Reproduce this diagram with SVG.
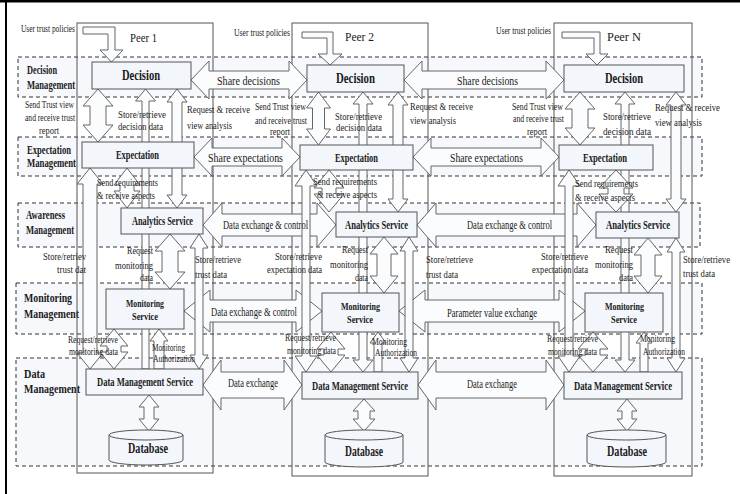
<svg xmlns="http://www.w3.org/2000/svg" width="740" height="494" viewBox="0 0 740 494">
<style>
.band{fill:#f6f8fc;stroke:#333;stroke-width:1;stroke-dasharray:4 3}
.peer{fill:none;stroke:#555;stroke-width:1}
.box{fill:#f3f6fb;stroke:#555;stroke-width:1}
.arw{fill:#fbfcfe;stroke:#666;stroke-width:1}
text{font-family:"Liberation Serif","Times New Roman",serif;fill:#1a1a1a}
.s{font-size:9.5px}
.ms{font-size:11px;font-weight:bold}
.a{font-size:12px}
.bl{font-size:11.5px;font-weight:bold}
.bl2{font-size:13.5px;font-weight:bold}
.n{font-size:12px;font-weight:bold}
.nb{font-size:14px;font-weight:bold}
.pl{font-size:13px}
</style>
<rect x="0" y="0" width="740" height="494" fill="#ffffff"/>
<g id="frame">
<rect x="0" y="0" width="740" height="2.5" fill="#000"/>
<rect x="5" y="0" width="2" height="494" fill="#000"/>
</g>
<g id="layer-decision"><rect class="band" x="18" y="57" width="684" height="40"/>
<text class="bl" x="27" y="74" textLength="30" lengthAdjust="spacingAndGlyphs">Decision</text>
<text class="bl" x="27" y="89" textLength="48" lengthAdjust="spacingAndGlyphs">Management</text></g>
<g id="layer-expectation"><rect class="band" x="18" y="137" width="684" height="39"/>
<text class="bl" x="27" y="154" textLength="44" lengthAdjust="spacingAndGlyphs">Expectation</text>
<text class="bl" x="27" y="167" textLength="49" lengthAdjust="spacingAndGlyphs">Management</text></g>
<g id="layer-awareness"><rect class="band" x="18" y="203" width="682" height="44"/>
<text class="bl" x="26" y="219" textLength="39" lengthAdjust="spacingAndGlyphs">Awareness</text>
<text class="bl" x="26" y="234" textLength="48" lengthAdjust="spacingAndGlyphs">Management</text></g>
<g id="layer-monitoring"><rect class="band" x="16" y="283" width="686" height="51"/>
<text class="bl2" x="24" y="302" textLength="48" lengthAdjust="spacingAndGlyphs">Monitoring</text>
<text class="bl2" x="24" y="318" textLength="55" lengthAdjust="spacingAndGlyphs">Management</text></g>
<g id="layer-data"><rect class="band" x="16" y="358" width="686" height="108"/>
<text class="bl2" x="24" y="378" textLength="21" lengthAdjust="spacingAndGlyphs">Data</text>
<text class="bl2" x="24" y="393" textLength="56" lengthAdjust="spacingAndGlyphs">Management</text></g>

<g id="peer-1"><rect class="peer" x="77" y="23" width="136" height="450"/>
<text class="pl" x="130" y="42" textLength="27" lengthAdjust="spacingAndGlyphs">Peer 1</text>
<text class="s" x="21" y="32" textLength="54" lengthAdjust="spacingAndGlyphs">User trust policies</text></g>
<g id="peer-2"><rect class="peer" x="292" y="23" width="136" height="453"/>
<text class="pl" x="345" y="41" textLength="29" lengthAdjust="spacingAndGlyphs">Peer 2</text>
<text class="s" x="234" y="36" textLength="56" lengthAdjust="spacingAndGlyphs">User trust policies</text></g>
<g id="peer-n"><rect class="peer" x="554" y="23" width="138" height="453"/>
<text class="pl" x="607" y="41" textLength="34" lengthAdjust="spacingAndGlyphs">Peer N</text>
<text class="s" x="496" y="34" textLength="55" lengthAdjust="spacingAndGlyphs">User trust policies</text></g>

<g id="connectors">
<polygon class="arw" points="191,80 209,61 209,71 289,71 289,61 307,80 289,99 289,89 209,89 209,99"/>
<polygon class="arw" points="404,80 422,61 422,71 546,71 546,61 564,80 546,99 546,89 422,89 422,99"/>
<polygon class="arw" points="194,157 212,138 212,148 282,148 282,138 300,157 282,176 282,166 212,166 212,176"/>
<polygon class="arw" points="413,157 431,138 431,148 541,148 541,138 559,157 541,176 541,166 431,166 431,176"/>
<polygon class="arw" points="203,225 222,203 222,214 317,214 317,203 336,225 317,247 317,236 222,236 222,247"/>
<polygon class="arw" points="417,225 436,203 436,214 577,214 577,203 596,225 577,247 577,236 436,236 436,247"/>
<polygon class="arw" points="184,311 210,290 210,300 296,300 296,290 322,311 296,332 296,322 210,322 210,332"/>
<polygon class="arw" points="399,311 425,290 425,300 559,300 559,290 585,311 559,332 559,322 425,322 425,332"/>
<polygon class="arw" points="203,385 221,360 221,372 284,372 284,360 302,385 284,410 284,398 221,398 221,410"/>
<polygon class="arw" points="418,385 436,360 436,372 546,372 546,360 564,385 546,410 546,398 436,398 436,410"/>
<path class="arw" d="M83,27 H115 V50 H123 L111.5,62 L100,50 H108 V34 H83 Z"/>
<path class="arw" d="M302,32 H333 V54 H342 L330,65 L318,54 H327 V38 H302 Z"/>
<path class="arw" d="M562,32 H600 V54 H608 L597,65 L586,54 H594 V38 H562 Z"/>
<polygon class="arw" points="98,89 113,106 106,106 106,125 113,125 98,142 83,125 90,125 90,106 83,106"/>
<polygon class="arw" points="145.5,89 155.5,101 149,101 149,369 142,369 142,101 135.5,101"/>
<polygon class="arw" points="177,89 187,102 182,102 182,195 187,195 177,208 167,195 172,195 172,102 167,102"/>
<polygon class="arw" points="127,168 140,185 134,185 134,191 140,191 127,208 114,191 120,191 120,185 114,185"/>
<polygon class="arw" points="90,168 103,184 97,184 97,353 103,353 90,369 77,353 83,353 83,184 77,184"/>
<polygon class="arw" points="170,234 185,251 178,251 178,272 185,272 170,289 155,272 162,272 162,251 155,251"/>
<polygon class="arw" points="199,234 208,248 203,248 203,355 208,355 199,369 190,355 195,355 195,248 190,248"/>
<polygon class="arw" points="114,329 128,346 121,346 121,352 128,352 114,369 100,352 107,352 107,346 100,346"/>
<polygon class="arw" points="159,329 168,341 164,341 164,369 154,369 154,341 150,341"/>
<polygon class="arw" points="149,395 159,407 154,407 154,419 159,419 149,431 139,419 144,419 144,407 139,407"/>
<polygon class="arw" points="318.5,92 330.5,108 324.5,108 324.5,129 330.5,129 318.5,145 306.5,129 312.5,129 312.5,108 306.5,108"/>
<polygon class="arw" points="363,92 373,104 367,104 367,360 373,360 363,372 353,360 359,360 359,104 353,104"/>
<polygon class="arw" points="398,92 408,105 403,105 403,199 408,199 398,212 388,199 393,199 393,105 388,105"/>
<polygon class="arw" points="329,170 344,188 336,188 336,194 344,194 329,212 314,194 322,194 322,188 314,188"/>
<polygon class="arw" points="306,170 317,186 310,186 310,356 317,356 306,372 295,356 302,356 302,186 295,186"/>
<polygon class="arw" points="384,237 398,254 391,254 391,276 398,276 384,293 370,276 377,276 377,254 370,254"/>
<polygon class="arw" points="409,237 418,251 413,251 413,358 418,358 409,372 400,358 405,358 405,251 400,251"/>
<polygon class="arw" points="331,332 345,349 338,349 338,355 345,355 331,372 317,355 324,355 324,349 317,349"/>
<polygon class="arw" points="378,332 386,343 382,343 382,372 374,372 374,343 370,343"/>
<polygon class="arw" points="364,399 375,411 370,411 370,419 375,419 364,431 353,419 358,419 358,411 353,411"/>
<polygon class="arw" points="580,92 595,109 588,109 588,128 595,128 580,145 565,128 572,128 572,109 565,109"/>
<polygon class="arw" points="625,92 635,104 629,104 629,360 635,360 625,372 615,360 621,360 621,104 615,104"/>
<polygon class="arw" points="676,92 686,105 681,105 681,199 686,199 676,212 666,199 671,199 671,105 666,105"/>
<polygon class="arw" points="616,170 633,188 624,188 624,194 633,194 616,212 599,194 608,194 608,188 599,188"/>
<polygon class="arw" points="569,170 580,186 573,186 573,356 580,356 569,372 558,356 565,356 565,186 558,186"/>
<polygon class="arw" points="648,238 662,255 655,255 655,276 662,276 648,293 634,276 641,276 641,255 634,255"/>
<polygon class="arw" points="676,238 685,252 680,252 680,358 685,358 676,372 667,358 672,358 672,252 667,252"/>
<polygon class="arw" points="593,332 608,349 600,349 600,355 608,355 593,372 578,355 586,355 586,349 578,349"/>
<polygon class="arw" points="644,332 652,343 648,343 648,372 640,372 640,343 636,343"/>
<polygon class="arw" points="627,399 637,411 632,411 632,419 637,419 627,431 617,419 622,419 622,411 617,411"/>
</g>

<g id="p1-decision"><rect class="box" x="92" y="62" width="99" height="27"/><text class="nb" x="122" y="80" textLength="38" lengthAdjust="spacingAndGlyphs">Decision</text></g>
<g id="p1-expectation"><rect class="box" x="82" y="142" width="112" height="26"/><text class="n" x="116" y="159" textLength="43" lengthAdjust="spacingAndGlyphs">Expectation</text></g>
<g id="p1-analytics"><rect class="box" x="121" y="208" width="82" height="26"/><text class="n" x="132" y="225" textLength="61" lengthAdjust="spacingAndGlyphs">Analytics Service</text></g>
<g id="p1-monitoring"><rect class="box" x="106" y="289" width="78" height="40"/><text class="ms" x="126" y="307" textLength="38" lengthAdjust="spacingAndGlyphs">Monitoring</text><text class="ms" x="132" y="320" textLength="26" lengthAdjust="spacingAndGlyphs">Service</text></g>
<g id="p1-dms"><rect class="box" x="86" y="369" width="117" height="26"/><text class="n" x="97" y="386" textLength="96" lengthAdjust="spacingAndGlyphs">Data Management Service</text></g>
<g id="p1-database"><path class="box" d="M109,435 A37,5 0 0 1 183,435 V460 A37,5 0 0 1 109,460 Z"/><path fill="none" stroke="#555" d="M109,435 A37,5 0 0 0 183,435"/><text class="nb" x="128" y="453" textLength="40" lengthAdjust="spacingAndGlyphs">Database</text></g>

<g id="p2-decision"><rect class="box" x="307" y="65" width="97" height="27"/><text class="nb" x="336" y="83" textLength="39" lengthAdjust="spacingAndGlyphs">Decision</text></g>
<g id="p2-expectation"><rect class="box" x="300" y="145" width="113" height="25"/><text class="n" x="335" y="162" textLength="43" lengthAdjust="spacingAndGlyphs">Expectation</text></g>
<g id="p2-analytics"><rect class="box" x="336" y="212" width="81" height="25"/><text class="n" x="345" y="229" textLength="63" lengthAdjust="spacingAndGlyphs">Analytics Service</text></g>
<g id="p2-monitoring"><rect class="box" x="322" y="293" width="77" height="39"/><text class="ms" x="341" y="310" textLength="39" lengthAdjust="spacingAndGlyphs">Monitoring</text><text class="ms" x="347" y="323" textLength="26" lengthAdjust="spacingAndGlyphs">Service</text></g>
<g id="p2-dms"><rect class="box" x="302" y="372" width="116" height="27"/><text class="n" x="312" y="390" textLength="96" lengthAdjust="spacingAndGlyphs">Data Management Service</text></g>
<g id="p2-database"><path class="box" d="M325,435 A39,5 0 0 1 403,435 V462 A39,5 0 0 1 325,462 Z"/><path fill="none" stroke="#555" d="M325,435 A39,5 0 0 0 403,435"/><text class="nb" x="345" y="456" textLength="38" lengthAdjust="spacingAndGlyphs">Database</text></g>

<g id="pn-decision"><rect class="box" x="564" y="65" width="120" height="27"/><text class="nb" x="605" y="83" textLength="38" lengthAdjust="spacingAndGlyphs">Decision</text></g>
<g id="pn-expectation"><rect class="box" x="559" y="145" width="94" height="25"/><text class="n" x="583" y="162" textLength="44" lengthAdjust="spacingAndGlyphs">Expectation</text></g>
<g id="pn-analytics"><rect class="box" x="596" y="212" width="83" height="26"/><text class="n" x="606" y="229" textLength="64" lengthAdjust="spacingAndGlyphs">Analytics Service</text></g>
<g id="pn-monitoring"><rect class="box" x="585" y="293" width="78" height="39"/><text class="ms" x="605" y="310" textLength="39" lengthAdjust="spacingAndGlyphs">Monitoring</text><text class="ms" x="611" y="323" textLength="26" lengthAdjust="spacingAndGlyphs">Service</text></g>
<g id="pn-dms"><rect class="box" x="564" y="372" width="118" height="27"/><text class="n" x="574" y="390" textLength="98" lengthAdjust="spacingAndGlyphs">Data Management Service</text></g>
<g id="pn-database"><path class="box" d="M587,435 A39.5,5 0 0 1 666,435 V462 A39.5,5 0 0 1 587,462 Z"/><path fill="none" stroke="#555" d="M587,435 A39.5,5 0 0 0 666,435"/><text class="nb" x="607" y="456" textLength="40" lengthAdjust="spacingAndGlyphs">Database</text></g>

<g id="connector-labels">
<text class="a" x="217" y="85" textLength="63" lengthAdjust="spacingAndGlyphs">Share decisions</text>
<text class="a" x="457" y="85" textLength="61" lengthAdjust="spacingAndGlyphs">Share decisions</text>
<text class="a" x="208" y="162" textLength="75" lengthAdjust="spacingAndGlyphs">Share expectations</text>
<text class="a" x="450" y="162" textLength="73" lengthAdjust="spacingAndGlyphs">Share expectations</text>
<text class="a" x="223" y="229" textLength="85" lengthAdjust="spacingAndGlyphs">Data exchange &amp; control</text>
<text class="a" x="467" y="229" textLength="85" lengthAdjust="spacingAndGlyphs">Data exchange &amp; control</text>
<text class="a" x="211" y="316" textLength="86" lengthAdjust="spacingAndGlyphs">Data exchange &amp; control</text>
<text class="a" x="447" y="317" textLength="90" lengthAdjust="spacingAndGlyphs">Parameter value exchange</text>
<text class="a" x="228" y="387" textLength="50" lengthAdjust="spacingAndGlyphs">Data exchange</text>
<text class="a" x="467" y="388" textLength="50" lengthAdjust="spacingAndGlyphs">Data exchange</text>

<text class="s" x="25" y="108" textLength="49" lengthAdjust="spacingAndGlyphs">Send Trust view</text>
<text class="s" x="25" y="121" textLength="50" lengthAdjust="spacingAndGlyphs">and receive trust</text>
<text class="s" x="39" y="134" textLength="20" lengthAdjust="spacingAndGlyphs">report</text>
<text class="s" x="118" y="118" textLength="48" lengthAdjust="spacingAndGlyphs">Store/retrieve</text>
<text class="s" x="118" y="130" textLength="45" lengthAdjust="spacingAndGlyphs">decision data</text>
<text class="s" x="187" y="113" textLength="63" lengthAdjust="spacingAndGlyphs">Request &amp; receive</text>
<text class="s" x="187" y="129" textLength="45" lengthAdjust="spacingAndGlyphs">view analysis</text>
<text class="s" x="97" y="186" textLength="61" lengthAdjust="spacingAndGlyphs">Send requirements</text>
<text class="s" x="97" y="199" textLength="58" lengthAdjust="spacingAndGlyphs">&amp; receive aspects</text>
<text class="s" x="43" y="260" textLength="43" lengthAdjust="spacingAndGlyphs">Store/retriev</text>
<text class="s" x="57" y="273" textLength="29" lengthAdjust="spacingAndGlyphs">trust dat</text>
<text class="s" x="127" y="254" textLength="26" lengthAdjust="spacingAndGlyphs">Request</text>
<text class="s" x="115" y="269" textLength="38" lengthAdjust="spacingAndGlyphs">monitoring</text>
<text class="s" x="140" y="281" textLength="13" lengthAdjust="spacingAndGlyphs">data</text>
<text class="s" x="195" y="263" textLength="46" lengthAdjust="spacingAndGlyphs">Store/retrieve</text>
<text class="s" x="195" y="278" textLength="32" lengthAdjust="spacingAndGlyphs">trust data</text>
<text class="s" x="68" y="343" textLength="50" lengthAdjust="spacingAndGlyphs">Request/retrieve</text>
<text class="s" x="69" y="355" textLength="49" lengthAdjust="spacingAndGlyphs">monitoring data</text>
<text class="s" x="152" y="351" textLength="33" lengthAdjust="spacingAndGlyphs">Monitoring</text>
<text class="s" x="153" y="362" textLength="42" lengthAdjust="spacingAndGlyphs">Authorization</text>

<text class="s" x="255" y="110" textLength="51" lengthAdjust="spacingAndGlyphs">Send Trust view</text>
<text class="s" x="255" y="124" textLength="52" lengthAdjust="spacingAndGlyphs">and receive trust</text>
<text class="s" x="270" y="135" textLength="20" lengthAdjust="spacingAndGlyphs">report</text>
<text class="s" x="335" y="120" textLength="47" lengthAdjust="spacingAndGlyphs">Store/retrieve</text>
<text class="s" x="336" y="131" textLength="46" lengthAdjust="spacingAndGlyphs">decision data</text>
<text class="s" x="410" y="110" textLength="63" lengthAdjust="spacingAndGlyphs">Request &amp; receive</text>
<text class="s" x="410" y="124" textLength="46" lengthAdjust="spacingAndGlyphs">view analysis</text>
<text class="s" x="313" y="185" textLength="64" lengthAdjust="spacingAndGlyphs">Send requirements</text>
<text class="s" x="317" y="198" textLength="60" lengthAdjust="spacingAndGlyphs">&amp; receive aspects</text>
<text class="s" x="275" y="260" textLength="47" lengthAdjust="spacingAndGlyphs">Store/retrieve</text>
<text class="s" x="267" y="273" textLength="55" lengthAdjust="spacingAndGlyphs">expectation data</text>
<text class="s" x="342" y="253" textLength="26" lengthAdjust="spacingAndGlyphs">Request</text>
<text class="s" x="330" y="268" textLength="38" lengthAdjust="spacingAndGlyphs">monitoring</text>
<text class="s" x="355" y="281" textLength="13" lengthAdjust="spacingAndGlyphs">data</text>
<text class="s" x="426" y="263" textLength="47" lengthAdjust="spacingAndGlyphs">Store/retrieve</text>
<text class="s" x="426" y="278" textLength="32" lengthAdjust="spacingAndGlyphs">trust data</text>
<text class="s" x="285" y="341" textLength="51" lengthAdjust="spacingAndGlyphs">Request/retrieve</text>
<text class="s" x="287" y="354" textLength="49" lengthAdjust="spacingAndGlyphs">monitoring data</text>
<text class="s" x="372" y="345" textLength="35" lengthAdjust="spacingAndGlyphs">Monitoring</text>
<text class="s" x="375" y="356" textLength="42" lengthAdjust="spacingAndGlyphs">Authorization</text>

<text class="s" x="512" y="110" textLength="51" lengthAdjust="spacingAndGlyphs">Send Trust view</text>
<text class="s" x="513" y="122" textLength="51" lengthAdjust="spacingAndGlyphs">and receive trust</text>
<text class="s" x="527" y="135" textLength="20" lengthAdjust="spacingAndGlyphs">report</text>
<text class="s" x="603" y="120" textLength="48" lengthAdjust="spacingAndGlyphs">Store/retrieve</text>
<text class="s" x="603" y="135" textLength="48" lengthAdjust="spacingAndGlyphs">decision data</text>
<text class="s" x="655" y="111" textLength="65" lengthAdjust="spacingAndGlyphs">Request &amp; receive</text>
<text class="s" x="655" y="126" textLength="47" lengthAdjust="spacingAndGlyphs">view analysis</text>
<text class="s" x="575" y="187" textLength="63" lengthAdjust="spacingAndGlyphs">Send requirements</text>
<text class="s" x="575" y="201" textLength="60" lengthAdjust="spacingAndGlyphs">&amp; receive aspects</text>
<text class="s" x="541" y="260" textLength="47" lengthAdjust="spacingAndGlyphs">Store/retrieve</text>
<text class="s" x="532" y="273" textLength="56" lengthAdjust="spacingAndGlyphs">expectation data</text>
<text class="s" x="605" y="253" textLength="28" lengthAdjust="spacingAndGlyphs">Request</text>
<text class="s" x="595" y="268" textLength="38" lengthAdjust="spacingAndGlyphs">monitoring</text>
<text class="s" x="619" y="281" textLength="14" lengthAdjust="spacingAndGlyphs">data</text>
<text class="s" x="683" y="263" textLength="47" lengthAdjust="spacingAndGlyphs">Store/retrieve</text>
<text class="s" x="683" y="277" textLength="32" lengthAdjust="spacingAndGlyphs">trust data</text>
<text class="s" x="547" y="342" textLength="51" lengthAdjust="spacingAndGlyphs">Request/retrieve</text>
<text class="s" x="548" y="355" textLength="49" lengthAdjust="spacingAndGlyphs">monitoring data</text>
<text class="s" x="640" y="342" textLength="35" lengthAdjust="spacingAndGlyphs">Monitoring</text>
<text class="s" x="643" y="355" textLength="42" lengthAdjust="spacingAndGlyphs">Authorization</text>
</g>
</svg>
